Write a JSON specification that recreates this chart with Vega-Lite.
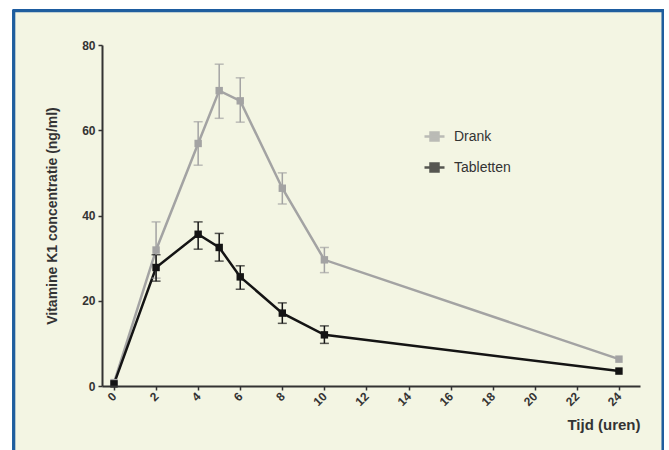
{
  "$schema": "https://vega.github.io/schema/vega-lite/v6.json",
  "width": 538,
  "height": 341,
  "autosize": {"type": "none"},
  "padding": {"left": 102, "top": 45, "right": 29, "bottom": 64},
  "background": "white",
  "config": {
    "view": {"stroke": null},
    "font": "Liberation Sans",
    "axis": {
      "domainColor": "#333333",
      "domainWidth": 2,
      "tickColor": "#333333",
      "tickWidth": 1.5,
      "tickSize": 4,
      "grid": false,
      "labelColor": "#333333",
      "labelFont": "Liberation Sans",
      "labelFontSize": 12,
      "labelFontWeight": "bold",
      "titleColor": "#333333",
      "titleFont": "Liberation Sans",
      "titleFontSize": 14,
      "titleFontWeight": "bold"
    }
  },
  "data": {
    "values": [
      {"series": "Drank", "t": 0, "y": 0.8, "lo": null, "hi": null},
      {"series": "Drank", "t": 2, "y": 31.9, "lo": 25.3, "hi": 38.5},
      {"series": "Drank", "t": 4, "y": 56.9, "lo": 51.8, "hi": 62.0},
      {"series": "Drank", "t": 5, "y": 69.3, "lo": 62.8, "hi": 75.5},
      {"series": "Drank", "t": 6, "y": 66.9, "lo": 61.9, "hi": 72.3},
      {"series": "Drank", "t": 8, "y": 46.4, "lo": 42.7, "hi": 50.0},
      {"series": "Drank", "t": 10, "y": 29.6, "lo": 26.6, "hi": 32.5},
      {"series": "Drank", "t": 24, "y": 6.3, "lo": null, "hi": null},
      {"series": "Tabletten", "t": 0, "y": 0.5, "lo": null, "hi": null},
      {"series": "Tabletten", "t": 2, "y": 27.8, "lo": 24.6, "hi": 30.8},
      {"series": "Tabletten", "t": 4, "y": 35.6, "lo": 32.1, "hi": 38.5},
      {"series": "Tabletten", "t": 5, "y": 32.5, "lo": 29.3, "hi": 35.8},
      {"series": "Tabletten", "t": 6, "y": 25.6, "lo": 22.7, "hi": 28.2},
      {"series": "Tabletten", "t": 8, "y": 17.1, "lo": 14.7, "hi": 19.5},
      {"series": "Tabletten", "t": 10, "y": 12.0, "lo": 10.0, "hi": 14.1},
      {"series": "Tabletten", "t": 24, "y": 3.5, "lo": null, "hi": null}
    ]
  },
  "layer": [
    {
      "mark": {"type": "rect", "fill": "#f3f5e3", "stroke": "#1f5e9e", "strokeWidth": 2.5, "clip": false},
      "encoding": {
        "x": {
          "datum": -4.75, "type": "quantitative",
          "title": "Tijd (uren)",
          "scale": {"domain": [-0.57, 25], "nice": false, "zero": false},
          "axis": {
            "zindex": 1,
            "values": [0, 2, 4, 6, 8, 10, 12, 14, 16, 18, 20, 22, 24],
            "labelAngle": -45,
            "labelAlign": "right",
            "labelBaseline": "middle",
            "labelPadding": 4,
            "titleFontSize": 15,
            "titleAnchor": "end",
            "titleAlign": "right",
            "titlePadding": 10
          }
        },
        "x2": {"datum": 26.08},
        "y": {
          "datum": 88.0, "type": "quantitative",
          "title": "Vitamine K1 concentratie (ng/ml)",
          "scale": {"domain": [0, 80], "nice": false},
          "axis": {
            "zindex": 1,
            "values": [0, 20, 40, 60, 80],
            "labelPadding": 3,
            "titlePadding": 22
          }
        },
        "y2": {"datum": -18.0}
      }
    },
    {
      "mark": {"type": "line", "strokeWidth": 2.5},
      "encoding": {
        "x": {"field": "t", "type": "quantitative", "title": "Tijd (uren)"},
        "y": {"field": "y", "type": "quantitative", "title": "Vitamine K1 concentratie (ng/ml)"},
        "color": {
          "field": "series", "type": "nominal",
          "scale": {"domain": ["Drank", "Tabletten"], "range": ["#a3a3a3", "#141414"]},
          "legend": {
            "zindex": 1,
            "title": null,
            "orient": "none",
            "legendX": 321,
            "legendY": 80,
            "padding": 0,
            "symbolType": "M -1 0 L 1 0 M -0.4 -0.4 L 0.4 -0.4 L 0.4 0.4 L -0.4 0.4 Z",
            "symbolSize": 400,
            "symbolStrokeWidth": 2.5,
            "symbolOpacity": 1,
            "rowPadding": 10,
            "labelFontSize": 14,
            "labelColor": "#333333",
            "labelFont": "Liberation Sans",
            "labelOffset": 8
          }
        }
      }
    },
    {
      "transform": [{"filter": "datum.lo != null"}],
      "mark": {"type": "errorbar", "ticks": {"size": 9, "thickness": 1.5}, "thickness": 1.5},
      "encoding": {
        "x": {"field": "t", "type": "quantitative", "title": "Tijd (uren)"},
        "y": {"field": "lo", "type": "quantitative", "title": "Vitamine K1 concentratie (ng/ml)"},
        "y2": {"field": "hi"},
        "color": {"field": "series", "type": "nominal"}
      }
    },
    {
      "mark": {"type": "point", "shape": "square", "filled": true, "size": 55, "opacity": 1},
      "encoding": {
        "x": {"field": "t", "type": "quantitative", "title": "Tijd (uren)"},
        "y": {"field": "y", "type": "quantitative", "title": "Vitamine K1 concentratie (ng/ml)"},
        "color": {"field": "series", "type": "nominal"}
      }
    }
  ]
}
